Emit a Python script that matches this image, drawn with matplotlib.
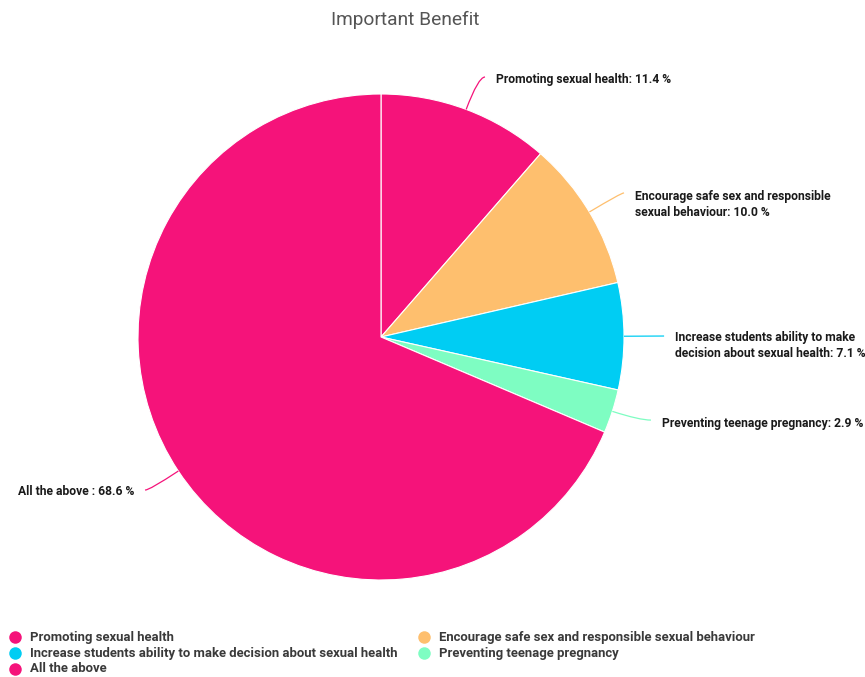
import numpy as np
import matplotlib.pyplot as plt
from matplotlib.path import Path
from matplotlib.patches import PathPatch
from matplotlib.lines import Line2D

# slice data (clockwise from 12 o'clock)
categories = [
    "Promoting sexual health",
    "Encourage safe sex and responsible sexual behaviour",
    "Increase students ability to make decision about sexual health",
    "Preventing teenage pregnancy",
    "All the above",
]
label_texts = [
    "Promoting sexual health: 11.4 %",
    "Encourage safe sex and responsible\nsexual behaviour: 10.0 %",
    "Increase students ability to make\ndecision about sexual health: 7.1 %",
    "Preventing teenage pregnancy: 2.9 %",
    "All the above : 68.6 %",
]
values = [11.4, 10.0, 7.1, 2.9, 68.6]
colors = ["#F5137A", "#FEBF6E", "#00CDF3", "#7EFDC2", "#F5137A"]

# where each outside label sits (pie radius = 1) and how it is anchored
label_pos = [(0.473, 1.058), (1.045, 0.547), (1.210, -0.033), (1.156, -0.354), (-1.016, -0.634)]
label_ha = ["left", "left", "left", "left", "right"]
line_end_y = [1.070, 0.593, 0.004, -0.342, -0.630]

fig = plt.figure(figsize=(8.65, 6.77), dpi=100)

# pie axes: center at (381, 337) px, radius 243 px
W, H = 865, 677
cx, cy, r = 381, 337, 243
ax = fig.add_axes([(cx - r) / W, (H - cy - r) / H, 2 * r / W, 2 * r / H])
wedges, _ = ax.pie(values, colors=colors, startangle=90, counterclock=False,
                   radius=1, wedgeprops=dict(edgecolor="white", linewidth=0.8))
ax.set_xlim(-1, 1)
ax.set_ylim(-1, 1)
ax.set_aspect("equal")
ax.axis("off")

for w, txt, (tx, ty), ha, ey in zip(wedges, label_texts, label_pos, label_ha, line_end_y):
    mid = np.deg2rad((w.theta1 + w.theta2) / 2)
    ux, uy = np.cos(mid), np.sin(mid)
    x0, y0 = ux, uy
    gap = 0.045 if ha == "left" else -0.045
    ex = tx - gap
    # control point: radial ray meets the end height of the leader
    if abs(uy) > 0.05:
        t = max((ey - y0) / uy, 0.0)
        ctrl = (x0 + ux * t, y0 + uy * t)
    else:
        ctrl = ((x0 + ex) / 2, (y0 + ey) / 2)
    path = Path([(x0, y0), ctrl, (ex, ey)], [Path.MOVETO, Path.CURVE3, Path.CURVE3])
    ax.add_patch(PathPatch(path, fill=False, edgecolor=w.get_facecolor(),
                           linewidth=0.9, clip_on=False))
    ax.text(tx, ty, txt, ha=ha, va="center", fontsize=8.7, fontweight="bold",
            family="Roboto", color="#1a1a1a", linespacing=1.3, clip_on=False)

fig.text(405 / W, 1 - 20 / H, "Important Benefit", ha="center", va="center",
         fontsize=13.8, family="Roboto", color="#555555")

# legend, two columns filled row by row
col_x = [15, 424]
row_y = [637, 653, 669]
for i, (name, c) in enumerate(zip(categories, colors)):
    row, col = divmod(i, 2)
    mx, my = col_x[col] / W, 1 - row_y[row] / H
    fig.add_artist(Line2D([mx], [my], marker="o", markersize=9, color=c,
                          markeredgewidth=0, transform=fig.transFigure))
    fig.text(mx + 15 / W, my, name, ha="left", va="center", fontsize=9.45,
             family="Roboto", fontweight="bold", color="#3a3a3a")

fig.savefig("out.png", dpi=100, facecolor="white")
